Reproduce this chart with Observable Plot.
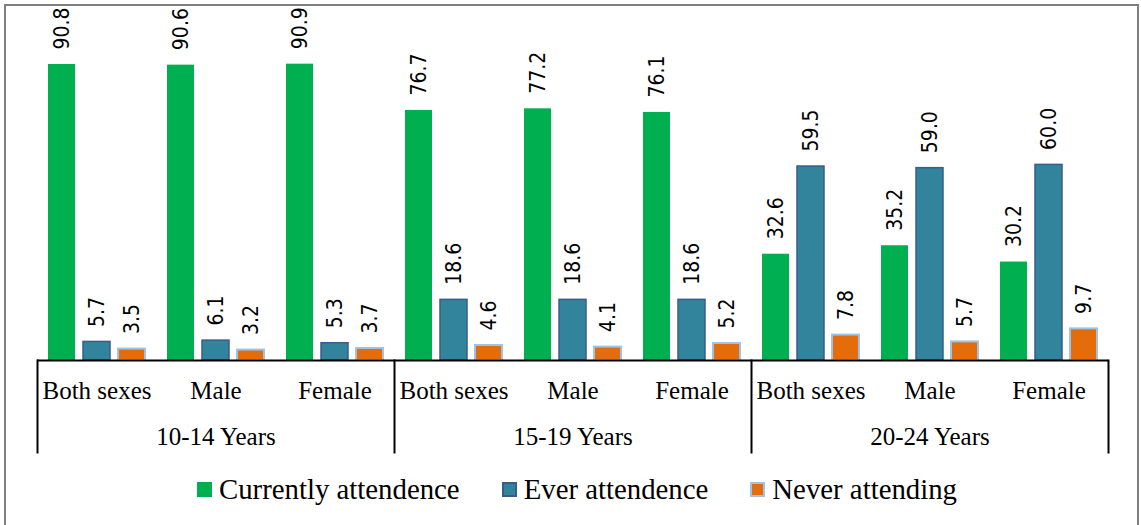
<!DOCTYPE html>
<html>
<head>
<meta charset="utf-8">
<script src="https://cdn.jsdelivr.net/npm/d3@7"></script>
<script src="https://cdn.jsdelivr.net/npm/@observablehq/plot@0.6"></script>
<style>
  html, body { margin: 0; padding: 0; background: #fff; }
  #box {
    position: absolute; left: 4px; top: 4px; width: 1135px; height: 540px;
    box-sizing: border-box; border: 2px solid #7f7f7f; border-bottom: none; background: #fff;
  }
  #legend {
    height: 46px; display: flex; align-items: center; justify-content: center;
    padding-left: 11px;
    font-family: "Liberation Serif", serif; font-size: 28.8px; color: #000;
  }
  .item { display: flex; align-items: center; margin: 0 21px; }
  .sw { width: 15px; height: 15px; box-sizing: border-box; margin-right: 7px; }
</style>
</head>
<body>
<div id="box"><div id="chart"></div><div id="legend"></div></div>
<script>
const ageGroups = ["10-14 Years", "15-19 Years", "20-24 Years"];
const sexes = ["Both sexes", "Male", "Female"];
const seriesNames = ["Currently attendence", "Ever attendence", "Never attending"];
const currently = [90.8, 90.6, 90.9, 76.7, 77.2, 76.1, 32.6, 35.2, 30.2];
const ever      = [5.7, 6.1, 5.3, 18.6, 18.6, 18.6, 59.5, 59.0, 60.0];
const never     = [3.5, 3.2, 3.7, 4.6, 4.1, 5.2, 7.8, 5.7, 9.7];
const fillColors = ["#00B050", "#31849B", "#E46C0A"];
const strokeColors = ["#00B050", "#385D8A", "#9DC3E6"];
const strokeWidths = [0, 1.5, 2];

const seriesValues = [currently, ever, never];
const cellKeys = ageGroups.flatMap(a => sexes.map(s => a + "|" + s));
const data = [];
cellKeys.forEach((key, i) => {
  seriesNames.forEach((name, j) => {
    data.push({key, series: name, value: seriesValues[j][i]});
  });
});

const W = 1131, H = 460, mT = 28, mB = 106, mL = 28, mR = 27;
const innerH = H - mT - mB;
const sepDepth = 92;
const sepStyle = {stroke: "#000", strokeWidth: 2, insetTop: innerH, insetBottom: -sepDepth};

const marks = [];
seriesNames.forEach((name, j) => {
  marks.push(Plot.barY(data.filter(d => d.series === name), {
    fx: "key", x: "series", y: "value",
    fill: fillColors[j], stroke: strokeColors[j], strokeWidth: strokeWidths[j]
  }));
});
marks.push(Plot.text(data, {
  fx: "key", x: "series", y: "value",
  text: d => d.value.toFixed(1),
  rotate: -90, textAnchor: "start", dy: -15,
  fontSize: 21, fontFamily: "'DejaVu Sans Condensed', sans-serif", fill: "#000"
}));
marks.push(Plot.ruleY([0], {stroke: "#000", strokeWidth: 2}));
ageGroups.forEach(a => {
  marks.push(Plot.frame({anchor: "left", fx: a + "|" + sexes[0], ...sepStyle}));
});
marks.push(Plot.frame({anchor: "right", fx: ageGroups[ageGroups.length - 1] + "|" + sexes[sexes.length - 1], ...sepStyle}));
marks.push(Plot.axisFx({
  anchor: "bottom", tickSize: 0, tickPadding: 21, label: null,
  tickFormat: k => k.split("|")[1], fontSize: 25, fontFamily: "'Liberation Serif', serif", fill: "#000"
}));
marks.push(Plot.text(ageGroups, {
  fx: a => a + "|" + sexes[1], text: a => a,
  frameAnchor: "bottom", dy: 76, lineAnchor: "middle",
  fontSize: 25, fontFamily: "'Liberation Serif', serif", fill: "#000"
}));

const chart = Plot.plot({
  width: W, height: H,
  marginTop: mT, marginBottom: mB, marginLeft: mL, marginRight: mR,
  fx: {domain: cellKeys, padding: 0, label: null},
  x: {domain: seriesNames, paddingInner: 0.22, paddingOuter: 0.28, axis: null},
  y: {domain: [0, 100], axis: null},
  style: {background: "#fff", overflow: "visible"},
  marks
});
document.getElementById("chart").appendChild(chart);

const legend = document.getElementById("legend");
seriesNames.forEach((name, j) => {
  const item = document.createElement("div");
  item.className = "item";
  const sw = document.createElement("div");
  sw.className = "sw";
  sw.style.background = fillColors[j];
  if (strokeWidths[j] > 0) sw.style.border = "2px solid " + strokeColors[j];
  const t = document.createElement("span");
  t.textContent = name;
  item.appendChild(sw); item.appendChild(t);
  legend.appendChild(item);
});
</script>
</body>
</html>
